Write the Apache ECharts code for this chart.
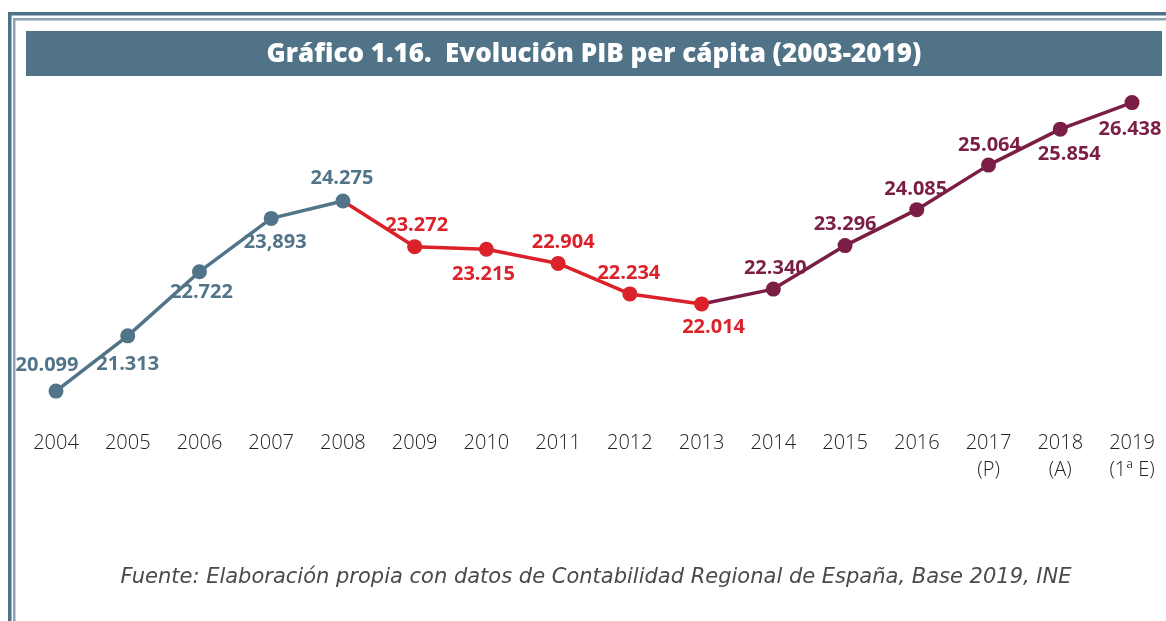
<!DOCTYPE html>
<html>
<head>
<meta charset="utf-8">
<script src="https://cdn.jsdelivr.net/npm/echarts@6/dist/echarts.min.js"></script>
<style>html,body{margin:0;padding:0;background:#fff}#c{width:1166px;height:621px}</style>
</head>
<body>
<div id="c"></div>
<script>
const years = ['2004','2005','2006','2007','2008','2009','2010','2011','2012','2013','2014','2015','2016','2017\n(P)','2018\n(A)','2019\n(1ª E)'];
const pib = [20.099, 21.313, 22.722, 23.893, 24.275, 23.272, 23.215, 22.904, 22.234, 22.014, 22.340, 23.296, 24.085, 25.064, 25.854, 26.438];
const pibLabels = ['20.099','21.313','22.722','23,893','24.275','23.272','23.215','22.904','22.234','22.014','22.340','23.296','24.085','25.064','25.854','26.438'];
// phases: [startIndex, endIndex]
const phaseCrecimiento = [0, 4];
const phaseCrisis = [4, 9];
const phaseRecuperacion = [9, 15];
const titleText = 'Gráfico 1.16.  Evolución PIB per cápita (2003-2019)';
const sourceText = 'Fuente: Elaboración propia con datos de Contabilidad Regional de España, Base 2019, INE';

// label offsets (style only)
const labelOffsets = [[-9,-26],[0,28],[2,21],[4,24],[-1,-23],[2,-21],[-3,25],[5,-21],[-1,-21],[12,23],[2,-21],[0,-21],[-1,-20],[1,-20],[9,25],[-2,27]];

const FONT = '"Open Sans", sans-serif';

function buildSeries(phase, color, z) {
  const data = pib.map((v, i) => {
    if (i < phase[0] || i > phase[1]) return '-';
    const shared = (i === phase[0] && phase[0] !== 0);
    return {
      value: v,
      symbolSize: shared ? 0 : 15,
      label: {
        show: !shared,
        formatter: pibLabels[i],
        position: 'inside',
        offset: labelOffsets[i]
      }
    };
  });
  return {
    type: 'line',
    data: data,
    z: z,
    symbol: 'circle',
    color: color,
    lineStyle: { color: color, width: 3.5 },
    itemStyle: { color: color },
    label: { color: color, fontFamily: FONT, fontWeight: 'bold', fontSize: 20 },
    animation: false
  };
}

const chart = echarts.init(document.getElementById('c'));
chart.setOption({
  backgroundColor: '#fff',
  animation: false,
  grid: { left: 56, right: 34, top: 77, height: 355 },
  xAxis: {
    type: 'category',
    data: years,
    boundaryGap: false,
    axisLine: { show: false },
    axisTick: { show: false },
    splitLine: { show: false },
    axisLabel: { color: '#222', fontFamily: FONT, fontWeight: 300, fontSize: 20, margin: -2, lineHeight: 27, interval: 0 }
  },
  yAxis: { type: 'value', min: 19.2, max: 27, show: false, splitLine: { show: false } },
  series: [
    buildSeries(phaseRecuperacion, '#7b1e45', 2),
    buildSeries(phaseCrisis, '#db2129', 3),
    buildSeries(phaseCrecimiento, '#527489', 4)
  ],
  graphic: [
    { type: 'rect', shape: { x: 8, y: 12, width: 1158, height: 3.5 }, style: { fill: '#4f7187' }, silent: true },
    { type: 'rect', shape: { x: 8, y: 12, width: 3.5, height: 609 }, style: { fill: '#4f7187' }, silent: true },
    { type: 'rect', shape: { x: 13, y: 18, width: 1153, height: 2.5 }, style: { fill: '#8ba3b4' }, silent: true },
    { type: 'rect', shape: { x: 13, y: 18, width: 2.5, height: 603 }, style: { fill: '#8ba3b4' }, silent: true },
    { type: 'rect', shape: { x: 26, y: 31, width: 1136, height: 45 }, style: { fill: '#507387' }, silent: true },
    { type: 'text', x: 594, y: 55, style: { text: titleText, fill: '#fff', font: '800 26px ' + FONT, textAlign: 'center', textVerticalAlign: 'middle' }, silent: true },
    { type: 'text', x: 596, y: 578, style: { text: sourceText, fill: '#4a4a4a', font: 'italic 200 21px "DejaVu Sans", sans-serif', textAlign: 'center', textVerticalAlign: 'middle' }, silent: true }
  ]
});
</script>
</body>
</html>
